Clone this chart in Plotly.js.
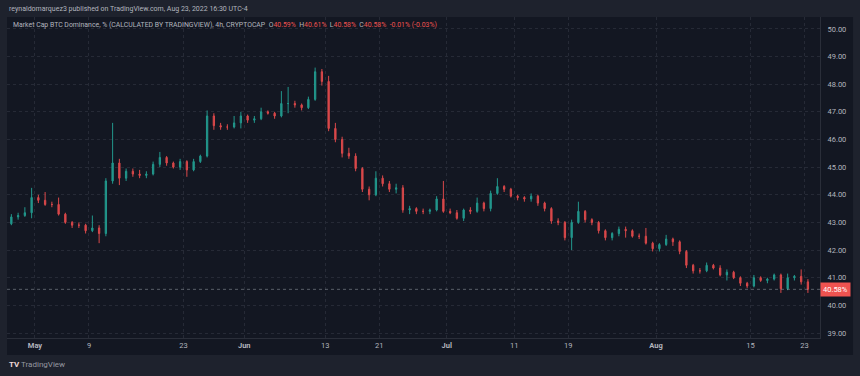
<!DOCTYPE html>
<html>
<head>
<meta charset="utf-8">
<script src="https://cdn.plot.ly/plotly-3.0.1.min.js"></script>
<style>html,body{margin:0;padding:0;background:#1e222d;}#chart{width:860px;height:376px;}</style>
</head>
<body>
<div id="chart"></div>
<script>
// Daily candles (Apr 27 – Aug 23, 2022)
const dates = [
 "2022-04-27","2022-04-28","2022-04-29","2022-04-30",
 "2022-05-01","2022-05-02","2022-05-03","2022-05-04","2022-05-05","2022-05-06","2022-05-07","2022-05-08","2022-05-09","2022-05-10",
 "2022-05-11","2022-05-12","2022-05-13","2022-05-14","2022-05-15","2022-05-16","2022-05-17","2022-05-18","2022-05-19","2022-05-20",
 "2022-05-21","2022-05-22","2022-05-23","2022-05-24","2022-05-25","2022-05-26","2022-05-27","2022-05-28","2022-05-29","2022-05-30","2022-05-31",
 "2022-06-01","2022-06-02","2022-06-03","2022-06-04","2022-06-05","2022-06-06","2022-06-07","2022-06-08","2022-06-09","2022-06-10",
 "2022-06-11","2022-06-12","2022-06-13","2022-06-14","2022-06-15","2022-06-16","2022-06-17","2022-06-18","2022-06-19","2022-06-20",
 "2022-06-21","2022-06-22","2022-06-23","2022-06-24","2022-06-25","2022-06-26","2022-06-27","2022-06-28","2022-06-29","2022-06-30",
 "2022-07-01","2022-07-02","2022-07-03","2022-07-04","2022-07-05","2022-07-06","2022-07-07","2022-07-08","2022-07-09","2022-07-10",
 "2022-07-11","2022-07-12","2022-07-13","2022-07-14","2022-07-15","2022-07-16","2022-07-17","2022-07-18","2022-07-19","2022-07-20",
 "2022-07-21","2022-07-22","2022-07-23","2022-07-24","2022-07-25","2022-07-26","2022-07-27","2022-07-28","2022-07-29","2022-07-30","2022-07-31",
 "2022-08-01","2022-08-02","2022-08-03","2022-08-04","2022-08-05","2022-08-06","2022-08-07","2022-08-08","2022-08-09","2022-08-10",
 "2022-08-11","2022-08-12","2022-08-13","2022-08-14","2022-08-15","2022-08-16","2022-08-17","2022-08-18","2022-08-19","2022-08-20",
 "2022-08-21","2022-08-22","2022-08-23"
];
const opens = [
 42.95,43.2,43.25,43.35,
 43.9,43.8,43.65,43.65,43.3,43.0,42.9,42.9,42.7,42.8,42.6,44.5,45.15,44.6,44.85,44.75,44.7,44.75,45.1,45.35,45.15,45.0,45.2,44.9,45.2,45.4,46.85,46.5,46.45,46.45,46.6,
 46.85,46.7,46.75,47.0,46.95,46.85,47.3,47.3,47.25,47.15,47.45,48.45,48.1,46.4,46.0,45.5,45.4,44.95,44.2,44.0,44.6,44.4,44.2,44.25,43.45,43.5,43.4,43.4,43.45,43.85,
 43.4,43.35,43.15,43.45,43.4,43.7,43.5,44.05,44.3,44.2,43.95,43.9,43.85,43.95,43.7,43.5,43.05,43.0,42.45,43.0,43.4,43.1,43.0,42.7,42.45,42.6,42.75,42.7,42.5,42.5,42.25,
 42.05,42.2,42.4,42.3,41.95,41.45,41.25,41.25,41.45,41.35,41.1,41.2,41.0,40.8,40.7,41.0,40.9,40.95,41.1,40.6,41.0,41.05,40.85
];
const highs = [
 43.3,43.35,43.55,44.25,
 44.0,44.1,43.75,43.9,43.35,43.05,43.0,42.95,43.25,42.9,44.6,46.6,45.3,44.95,44.95,44.9,44.85,45.2,45.55,45.4,45.2,45.3,45.25,45.3,45.45,47.05,46.95,46.6,46.55,46.85,47.0,
 46.9,46.85,47.15,47.05,47.0,47.75,47.9,47.4,47.3,47.55,48.6,48.55,48.3,46.6,46.1,45.7,45.5,45.0,44.3,44.85,44.7,44.5,44.4,44.35,43.6,43.55,43.5,43.5,43.95,44.5,
 43.5,43.45,43.5,43.55,43.9,43.75,44.15,44.6,44.35,44.25,44.0,43.95,44.05,44.0,43.75,43.55,43.15,43.05,43.1,43.75,43.45,43.15,43.05,42.75,42.65,42.85,42.85,42.75,42.6,42.8,42.3,
 42.25,42.55,42.45,42.35,42.0,41.5,41.35,41.55,41.5,41.45,41.3,41.25,41.05,40.85,41.1,41.05,41.0,41.15,41.15,41.15,41.1,41.3,40.95
];
const lows = [
 42.9,43.1,43.2,43.15,
 43.7,43.6,43.55,43.25,42.95,42.8,42.8,42.6,42.65,42.25,42.5,44.4,44.35,44.5,44.65,44.6,44.6,44.7,45.0,45.05,44.95,44.9,44.65,44.85,45.15,45.35,46.35,46.35,46.35,46.4,46.4,
 46.6,46.6,46.7,46.9,46.75,46.8,46.95,47.15,47.05,47.1,47.4,47.95,46.3,45.9,45.35,45.3,44.85,44.1,43.8,43.95,44.3,44.1,44.05,43.35,43.3,43.3,43.3,43.3,43.4,43.35,
 43.3,43.1,43.05,43.3,43.35,43.4,43.4,44.0,44.1,43.9,43.8,43.75,43.75,43.6,43.4,42.95,42.9,42.35,42.0,42.95,43.0,42.9,42.6,42.35,42.35,42.5,42.45,42.45,42.4,42.2,41.95,
 41.95,42.15,42.15,41.85,41.35,41.15,41.15,41.2,41.3,41.05,40.9,40.95,40.7,40.62,40.65,40.85,40.8,40.9,40.45,40.55,40.9,40.75,40.45
];
const closes = [
 43.2,43.25,43.35,43.9,
 43.8,43.65,43.65,43.3,43.0,42.9,42.9,42.7,42.8,42.6,44.5,45.15,44.6,44.85,44.75,44.7,44.75,45.1,45.35,45.15,45.0,45.2,44.9,45.2,45.4,46.85,46.5,46.45,46.45,46.6,46.85,
 46.7,46.75,47.0,46.95,46.85,47.3,47.3,47.25,47.15,47.45,48.45,48.1,46.4,46.0,45.5,45.4,44.95,44.2,44.0,44.6,44.4,44.2,44.25,43.45,43.5,43.4,43.4,43.45,43.85,43.4,
 43.35,43.15,43.45,43.4,43.7,43.5,44.05,44.3,44.2,43.95,43.9,43.85,43.95,43.7,43.5,43.05,43.0,42.45,43.0,43.4,43.1,43.0,42.7,42.45,42.6,42.75,42.7,42.5,42.5,42.25,42.05,
 42.2,42.4,42.3,41.95,41.45,41.25,41.25,41.45,41.35,41.1,41.2,41.0,40.8,40.7,41.0,40.9,40.95,41.1,40.6,41.0,41.05,40.85,40.58
];
const xTickVals = ["2022-05-01","2022-05-09","2022-05-23","2022-06-01","2022-06-13","2022-06-21","2022-07-01","2022-07-11","2022-07-19","2022-08-01","2022-08-15","2022-08-23"];
const xTickText = ["<b>May</b>","9","23","<b>Jun</b>","13","21","<b>Jul</b>","11","19","<b>Aug</b>","15","23"];
const yTickVals = [39,40,41,42,43,44,45,46,47,48,49,50];
const lastValue = 40.58;

const headerText = "reynaldomarquez3 published on TradingView.com, Aug 23, 2022 16:30 UTC-4";
const seriesText = "Market Cap BTC Dominance, % (CALCULATED BY TRADINGVIEW), 4h, CRYPTOCAP";
const ohlcLabels = ["O","H","L","C"];
const ohlcValues = ["40.59%","40.61%","40.58%","40.58%"];
const changeText = "-0.01% (-0.03%)";

const UP = '#22978c', DOWN = '#d9484a';
const GRAY = '#b2b5be';
const RED = '#ef5350';

const trace = {
  type: 'candlestick',
  x: dates.map(d => d + ' 12:00'),
  open: opens, high: highs, low: lows, close: closes,
  increasing: {line: {color: UP, width: 1}, fillcolor: UP},
  decreasing: {line: {color: DOWN, width: 1}, fillcolor: DOWN},
  whiskerwidth: 0,
  hoverinfo: 'skip'
};

const SP = '&nbsp;';
let legendHtml = '<span style="color:' + GRAY + '">' + seriesText + '</span>';
for (let i = 0; i < 4; i++) {
  legendHtml += '<span style="color:' + GRAY + '">' + SP + SP + ohlcLabels[i] + '</span><span style="color:' + RED + '">' + ohlcValues[i] + '</span>';
}
legendHtml += '<span style="color:' + RED + '">' + SP + SP + changeText + '</span>';

const layout = {
  width: 860, height: 376,
  margin: {l: 7, r: 40, t: 17, b: 38, pad: 0},
  paper_bgcolor: '#1e222d',
  plot_bgcolor: '#161a25',
  showlegend: false,
  boxgap: 0.72,
  font: {family: 'Roboto, "Liberation Sans", sans-serif', size: 7, color: GRAY},
  xaxis: {
    type: 'date',
    range: ['2022-04-26 20:30', '2022-08-25 07:00'],
    tickmode: 'array', tickvals: xTickVals, ticktext: xTickText,
    showgrid: true, gridcolor: '#262a36', griddash: 'dot', gridwidth: 1,
    zeroline: false, showline: true, linecolor: '#2a2e39', linewidth: 1,
    ticks: '', rangeslider: {visible: false},
    tickfont: {size: 7.5, color: GRAY}
  },
  yaxis: {
    side: 'right',
    range: [38.82, 50.43],
    tickmode: 'array', tickvals: yTickVals,
    tickformat: '.2f', ticksuffix: '%',
    showgrid: true, gridcolor: '#262a36', griddash: 'dot', gridwidth: 1,
    zeroline: false, showline: true, linecolor: '#2a2e39', linewidth: 1,
    ticks: '', ticklabelstandoff: 5,
    tickfont: {size: 7.5, color: GRAY}
  },
  shapes: [
    {type: 'rect', xref: 'paper', yref: 'paper', x0: 0, x1: 1.0406, y0: -0.053, y1: 1,
     fillcolor: '#131722', line: {width: 0}, layer: 'below'},
    {type: 'line', xref: 'paper', yref: 'y', x0: 0, x1: 1, y0: lastValue, y1: lastValue,
     line: {color: 'rgba(178,181,190,0.45)', width: 1, dash: 'dot'}, layer: 'above'}
  ],
  annotations: [
    {xref: 'paper', yref: 'paper', x: 0, y: 1.026, xanchor: 'left', yanchor: 'middle',
     text: headerText, showarrow: false, font: {size: 7, color: GRAY}},
    {xref: 'paper', yref: 'paper', x: 0.005, y: 0.975, xanchor: 'left', yanchor: 'middle',
     text: legendHtml, showarrow: false, font: {size: 6.9, color: GRAY}},
    {xref: 'paper', yref: 'y', x: 1, y: lastValue, xanchor: 'left', yanchor: 'middle',
     text: lastValue.toFixed(2) + '%', showarrow: false, bgcolor: RED, borderpad: 2,
     font: {size: 7.5, color: '#ffffff'}},
    {xref: 'paper', yref: 'paper', x: 0, y: -0.084, xanchor: 'left', yanchor: 'middle',
     text: '<b><span style="color:#f0d8d8">TV</span></b> <span style="color:#9598a1">TradingView</span>',
     showarrow: false, font: {size: 8, color: GRAY}}
  ]
};

Plotly.newPlot('chart', [trace], layout, {staticPlot: true, displayModeBar: false});
</script>
</body>
</html>
